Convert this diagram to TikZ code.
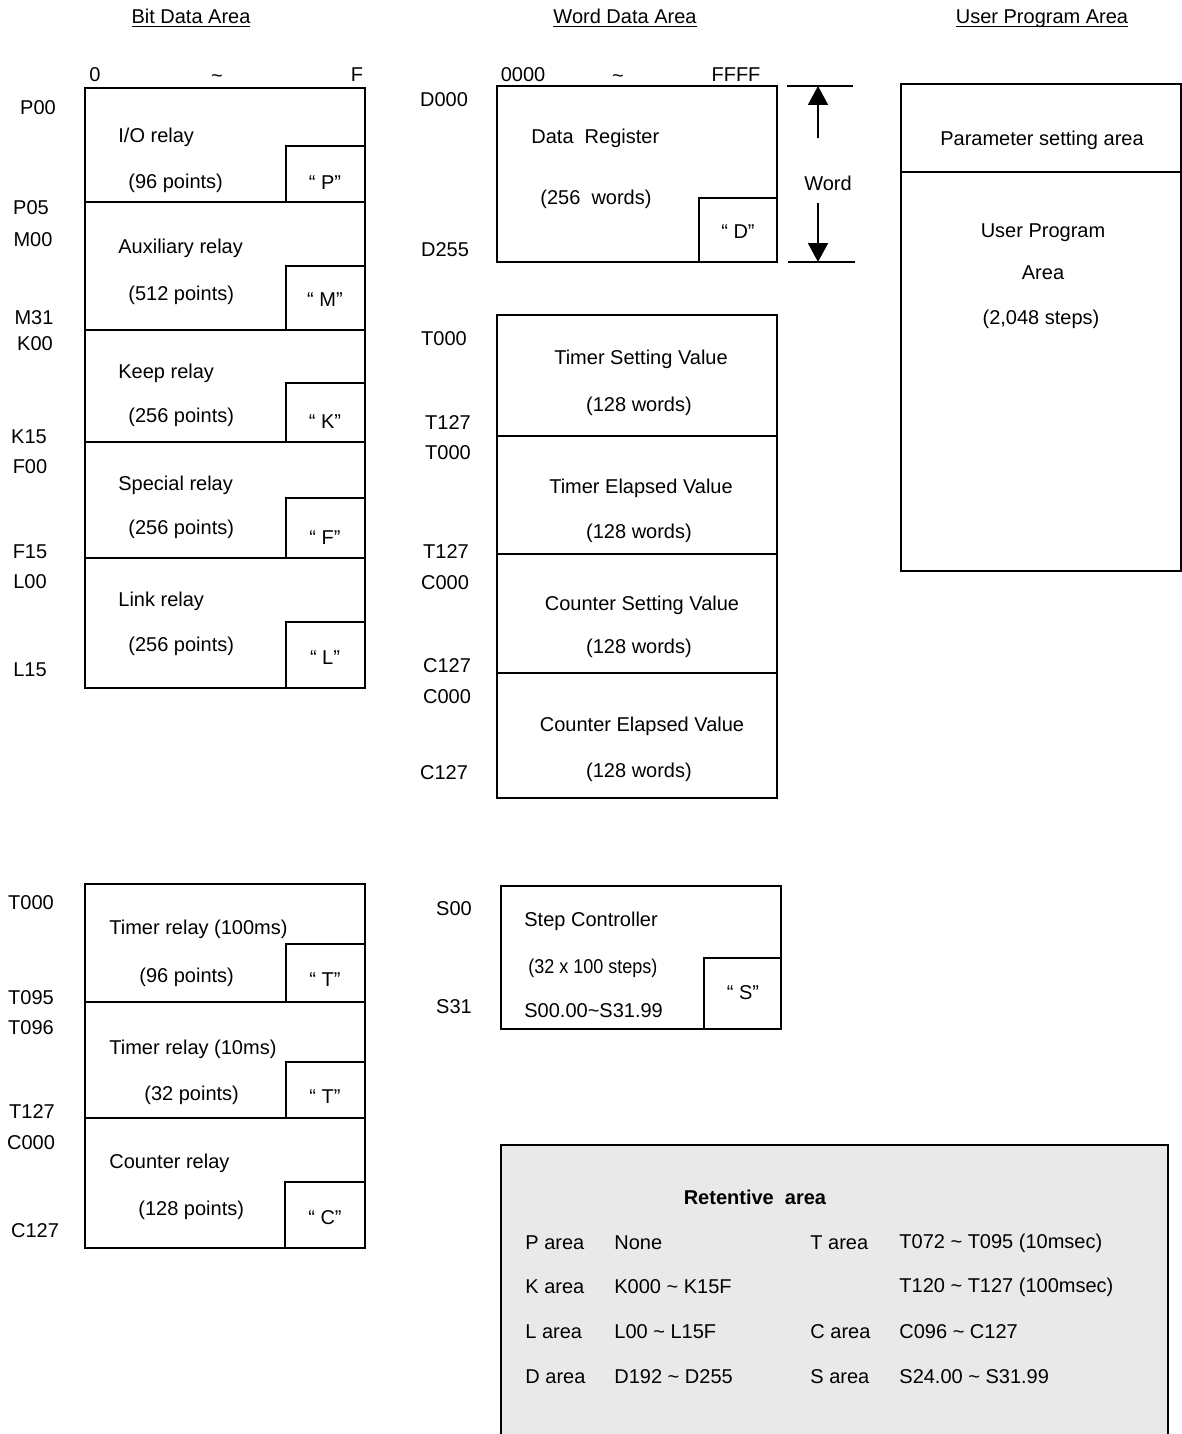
\documentclass[tikz,border=0pt]{standalone}
\usepackage{fontspec}
\setmainfont{Liberation Sans}
\usetikzlibrary{arrows.meta}
\definecolor{retfill}{HTML}{E9E9E9}

\begin{document}
\begin{tikzpicture}[
  x=0.5pt, y=-0.5pt,
  every node/.style={font=\fontsize{10}{12}\selectfont, inner sep=0pt},
  area/.style={line width=1pt},
  txt/.style={anchor=west},
  heading/.style={anchor=base},
  >={Triangle[width=10pt, length=9.5pt]}
]
\useasboundingbox (0,0) rectangle (1182,1434);

%% ---- Headings ------------------------------------------------------
\node[heading] (hbit)  at (191,24)  {\underline{\smash{Bit Data Area}}};
\node[heading] (hword) at (625,24)  {\underline{\smash{Word Data Area}}};
\node[heading] (huser) at (1042,24) {\underline{\smash{User Program Area}}};

%% ---- Bit data area  (top left) -------------------------------------
\begin{scope}
  % column range
  \node (bzero) at (95,75)  {0};
  \node (btil)  at (217,79) {\textasciitilde};
  \node (bef)   at (357,75) {F};

  % frame, dividers and device tags
  \draw[area] (85,88) rectangle (365,688);
  \draw[area] (85,202) -- (365,202);
  \draw[area] (85,330) -- (365,330);
  \draw[area] (85,442) -- (365,442);
  \draw[area] (85,558) -- (365,558);
  \draw[area] (286,202) |- (365,146);
  \draw[area] (286,330) |- (365,266);
  \draw[area] (286,442) |- (365,383);
  \draw[area] (286,558) |- (365,498);
  \draw[area] (286,688) |- (365,622);

  % relay names
  \node[txt] (io)    at (118,137) {I/O relay};
  \node[txt] (ioN)   at (128,183) {(96 points)};
  \node[txt] (aux)   at (118,248) {Auxiliary relay};
  \node[txt] (auxN)  at (128,295) {(512 points)};
  \node[txt] (keep)  at (118,373) {Keep relay};
  \node[txt] (keepN) at (128,417) {(256 points)};
  \node[txt] (spec)  at (118,485) {Special relay};
  \node[txt] (specN) at (128,529) {(256 points)};
  \node[txt] (link)  at (118,601) {Link relay};
  \node[txt] (linkN) at (128,646) {(256 points)};

  \node (tagP) at (325,183) {“ P”};
  \node (tagM) at (325,300) {“ M”};
  \node (tagK) at (325,422) {“ K”};
  \node (tagF) at (325,538) {“ F”};
  \node (tagL) at (325,658) {“ L”};

  % addresses
  \node (pA) at (38,108) {P00};
  \node (pB) at (31,208) {P05};
  \node (mA) at (33,240) {M00};
  \node (mB) at (34,318) {M31};
  \node (kA) at (35,344) {K00};
  \node (kB) at (29,437) {K15};
  \node (fA) at (30,467) {F00};
  \node (fB) at (30,552) {F15};
  \node (lA) at (30,582) {L00};
  \node (lB) at (30,670) {L15};
\end{scope}

%% ---- Timer / counter relays  (bottom left) -------------------------
\begin{scope}
  \draw[area] (85,884) rectangle (365,1248);
  \draw[area] (85,1002) -- (365,1002);
  \draw[area] (85,1118) -- (365,1118);
  \draw[area] (286,1002) |- (365,944);
  \draw[area] (286,1118) |- (365,1062);
  \draw[area] (285,1248) |- (365,1182);

  \node[txt] (tmA)  at (109,929)  {Timer relay (100ms)};
  \node[txt] (tmAN) at (139,977)  {(96 points)};
  \node[txt] (tmB)  at (109,1049) {Timer relay (10ms)};
  \node[txt] (tmBN) at (144,1095) {(32 points)};
  \node[txt] (cnt)  at (109,1163) {Counter relay};
  \node[txt] (cntN) at (138,1210) {(128 points)};

  \node (tagTa) at (325,980)  {“ T”};
  \node (tagTb) at (325,1097) {“ T”};
  \node (tagC)  at (325,1218) {“ C”};

  \node (rtA) at (31,903)  {T000};
  \node (rtB) at (31,998)  {T095};
  \node (rtC) at (31,1028) {T096};
  \node (rtD) at (32,1112) {T127};
  \node (rcA) at (31,1143) {C000};
  \node (rcB) at (35,1231) {C127};
\end{scope}

%% ---- Word data area  (top middle) ----------------------------------
\begin{scope}
  \node (wzero) at (523,75) {0000};
  \node (wtil)  at (618,79) {\textasciitilde};
  \node (weff)  at (736,75) {FFFF};

  % data register
  \draw[area] (497,86) rectangle (777,262);
  \draw[area] (699,262) |- (777,198);
  \node[txt] (dreg)  at (531,138) {Data\ \ Register};
  \node[txt] (dregN) at (540,199) {(256\ \ words)};
  \node (tagD) at (738,232) {“ D”};
  \node (dA) at (444,100) {D000};
  \node (dB) at (445,250) {D255};

  % word width marker
  \coordinate (wtopL) at (787,86);
  \coordinate (wtopR) at (853,86);
  \coordinate (wbotL) at (788,262);
  \coordinate (wbotR) at (855,262);
  \coordinate (wupS)  at (818,138);
  \coordinate (wupE)  at (818,86);
  \coordinate (wdnS)  at (818,203);
  \coordinate (wdnE)  at (818,262);
  \draw[area] (wtopL) -- (wtopR);
  \draw[area] (wbotL) -- (wbotR);
  \draw[area, ->] (wupS) -- (wupE);
  \draw[area, ->] (wdnS) -- (wdnE);
  \node (word) at (828,183) {Word};

  % timer and counter values
  \draw[area] (497,315) rectangle (777,798);
  \draw[area] (497,436) -- (777,436);
  \draw[area] (497,554) -- (777,554);
  \draw[area] (497,673) -- (777,673);
  \node (tsv)  at (641,359) {Timer Setting Value};
  \node (tsvN) at (639,406) {(128 words)};
  \node (tev)  at (641,488) {Timer Elapsed Value};
  \node (tevN) at (639,533) {(128 words)};
  \node (csv)  at (642,605) {Counter Setting Value};
  \node (csvN) at (639,648) {(128 words)};
  \node (cev)  at (642,726) {Counter Elapsed Value};
  \node (cevN) at (639,772) {(128 words)};

  \node (vtA) at (444,339) {T000};
  \node (vtB) at (448,423) {T127};
  \node (vtC) at (448,453) {T000};
  \node (vtD) at (446,552) {T127};
  \node (vcA) at (445,583) {C000};
  \node (vcB) at (447,666) {C127};
  \node (vcC) at (447,697) {C000};
  \node (vcD) at (444,773) {C127};
\end{scope}

%% ---- Step controller  (bottom middle) ------------------------------
\begin{scope}
  \draw[area] (501,886) rectangle (781,1029);
  \draw[area] (704,1029) |- (781,958);
  \node[txt] (step)  at (524,921)  {Step Controller};
  \node[txt] (stepN) at (528,968)  {\scalebox{0.9}[1]{(32 x 100 steps)}};
  \node[txt] (stepR) at (524,1011) {S00.00\textasciitilde S31.99};
  \node (tagS) at (743,993) {“ S”};
  \node (sA) at (454,909)  {S00};
  \node (sB) at (454,1007) {S31};
\end{scope}

%% ---- User program area  (top right) --------------------------------
\begin{scope}
  \draw[area] (901,84) rectangle (1181,571);
  \draw[area] (901,172) -- (1181,172);
  \node (param) at (1042,140) {Parameter setting area};
  \node (upA)   at (1043,233) {User Program};
  \node (upB)   at (1043,273) {Area};
  \node (upC)   at (1041,319) {(2,048 steps)};
\end{scope}

%% ---- Retentive area  (bottom right) --------------------------------
\begin{scope}
  \fill[retfill] (501,1145) rectangle (1168,1434);
  \draw[area] (501,1434) |- (1168,1145) -- (1168,1434);
  \node (ret) at (755,1197) {\textbf{Retentive\ \ area}};

  \node[txt] (rpA) at (525,1243) {P area};
  \node[txt] (rpB) at (614,1243) {None};
  \node[txt] (rkA) at (525,1287) {K area};
  \node[txt] (rkB) at (614,1287) {K000 \textasciitilde\ K15F};
  \node[txt] (rlA) at (525,1332) {L area};
  \node[txt] (rlB) at (614,1332) {L00 \textasciitilde\ L15F};
  \node[txt] (rdA) at (525,1377) {D area};
  \node[txt] (rdB) at (614,1377) {D192 \textasciitilde\ D255};

  \node[txt] (rtaA) at (810,1243) {T area};
  \node[txt] (rtaB) at (899,1243) {T072 \textasciitilde\ T095 (10msec)};
  \node[txt] (rtaC) at (899,1287) {T120 \textasciitilde\ T127 (100msec)};
  \node[txt] (rcaA) at (810,1332) {C area};
  \node[txt] (rcaB) at (899,1332) {C096 \textasciitilde\ C127};
  \node[txt] (rsaA) at (810,1377) {S area};
  \node[txt] (rsaB) at (899,1377) {S24.00 \textasciitilde\ S31.99};
\end{scope}

\end{tikzpicture}
\end{document}
